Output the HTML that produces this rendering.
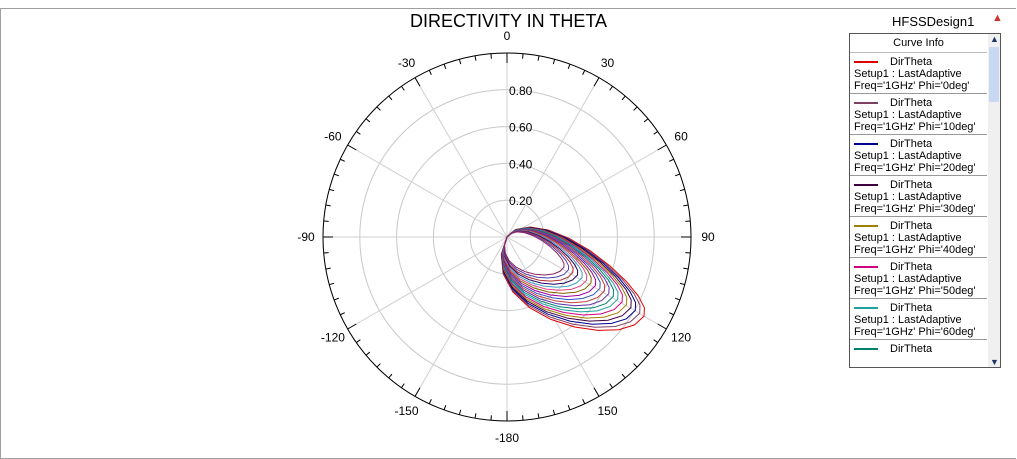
<!DOCTYPE html><html><head><style>
body{margin:0;width:1017px;height:458px;background:#fff;overflow:hidden;font-family:"Liberation Sans",Arial,sans-serif;position:relative}
.frame{position:absolute;left:0;top:8px;width:1015px;height:449px;border:1px solid #a0a0a0;border-right:none}
.title{position:absolute;left:0;width:1017px;top:11px;text-align:center;font-size:18px}
.proj{position:absolute;left:892px;top:14px;font-size:13px}
.leg{position:absolute;left:849px;top:33px;width:150px;height:333px;border:1px solid #555;background:#fff;overflow:hidden;font-size:11px}
.leg .h{height:18px;text-align:center;line-height:18px;border-bottom:1px solid #bbb;width:137px}
.e{height:41px;border-bottom:1px solid #999;width:137px;padding-left:4px;box-sizing:border-box;line-height:12px;padding-top:3px}
.e i{display:inline-block;width:24px;height:2px;vertical-align:middle;margin-right:12px}
.sb{position:absolute;right:0;top:0;width:12px;height:333px;background:#f0f0f0}
</style></head><body>
<div class="frame"></div>
<div class="title">DIRECTIVITY IN THETA</div>
<div class="proj">HFSSDesign1</div>
<div style="position:absolute;left:992px;top:12px;color:#c33;font-size:11px">▲</div>
<svg id="s" width="1017" height="458" style="position:absolute;left:0;top:0"></svg>
<div class="leg"><div class="h">Curve Info</div>
<div class="e"><i style="background:#e00000"></i>DirTheta<br>Setup1 : LastAdaptive<br>Freq='1GHz' Phi='0deg'</div>
<div class="e"><i style="background:#804060"></i>DirTheta<br>Setup1 : LastAdaptive<br>Freq='1GHz' Phi='10deg'</div>
<div class="e"><i style="background:#000090"></i>DirTheta<br>Setup1 : LastAdaptive<br>Freq='1GHz' Phi='20deg'</div>
<div class="e"><i style="background:#400040"></i>DirTheta<br>Setup1 : LastAdaptive<br>Freq='1GHz' Phi='30deg'</div>
<div class="e"><i style="background:#a08000"></i>DirTheta<br>Setup1 : LastAdaptive<br>Freq='1GHz' Phi='40deg'</div>
<div class="e"><i style="background:#d00080"></i>DirTheta<br>Setup1 : LastAdaptive<br>Freq='1GHz' Phi='50deg'</div>
<div class="e"><i style="background:#20a0a0"></i>DirTheta<br>Setup1 : LastAdaptive<br>Freq='1GHz' Phi='60deg'</div>
<div class="e" style="border:none"><i style="background:#008070"></i>DirTheta</div>
<div class="sb"><div style="position:absolute;top:13px;left:1px;width:10px;height:55px;background:#c8d8f0"></div><div style="position:absolute;top:0;left:2px;font-size:9px;color:#236">▲</div><div style="position:absolute;bottom:0;left:2px;font-size:9px;color:#236">▼</div></div>
</div>
<script>
var s=document.getElementById('s'),cx=507,cy=237,R=184,h='';
function P(r,a){a=a*Math.PI/180;return [cx+r*Math.sin(a),cy-r*Math.cos(a)];}
for(var i=1;i<=5;i++)h+='<circle cx="'+cx+'" cy="'+cy+'" r="'+(R*i/5)+'" fill="none" stroke="#c8c8c8"/>';
for(var a=0;a<360;a+=30){var p=P(R,a);h+='<line x1="'+cx+'" y1="'+cy+'" x2="'+p[0]+'" y2="'+p[1]+'" stroke="#d0d0d0"/>';}
h+='<circle cx="'+cx+'" cy="'+cy+'" r="'+R+'" fill="none" stroke="#000"/>';
for(var a=0;a<360;a+=5){var L=a%30==0?10:5,p=P(R,a),q=P(R-L,a);h+='<line x1="'+p[0]+'" y1="'+p[1]+'" x2="'+q[0]+'" y2="'+q[1]+'" stroke="#000"/>';}
var labs={0:'0',30:'30',60:'60',90:'90',120:'120',150:'150',180:'-180',210:'-150',240:'-120',270:'-90',300:'-60',330:'-30'};
for(var a in labs){var p=P(R+17,+a);h+='<text x="'+p[0]+'" y="'+(p[1]+4)+'" font-size="12" text-anchor="middle" font-family="Liberation Sans">'+labs[a]+'</text>';}
['0.20','0.40','0.60','0.80'].forEach(function(t,i){h+='<text x="'+(cx+2)+'" y="'+(cy-R*(i+1)/5+5)+'" font-size="12" font-family="Liberation Sans">'+t+'</text>';});
var cols=['#e00000','#804060','#000090','#400040','#a08000','#d00080','#20a0a0','#008070','#6030a0','#c04040','#3050c0','#a000a0','#806000','#e04080','#40a0c0','#200060','#b03030','#5040b0','#902060'];
for(var k=0;k<19;k++){
 var f=k/18,Lm=(0.86-0.51*f)*R,W=(0.50+0.05*f)*Lm,ang=(120-2*f)*Math.PI/180;
 var ux=Math.sin(ang),uy=-Math.cos(ang),vx=-uy,vy=ux,d='';
 for(var j=0;j<=20;j++){var t=j/20*2*Math.PI;
  var a1=Lm*(1-Math.cos(t))/2,sn=Math.sin(t);
  var b=W/2*sn*(sn>0?1.25:0.75)*(1+0.2*Math.cos(t));
  var x=cx+ux*a1+vx*b,y=cy+uy*a1+vy*b;
  d+=(d?'L':'M')+x.toFixed(1)+' '+y.toFixed(1);}
 h+='<path d="'+d+'" fill="none" stroke="'+cols[k]+'" stroke-width="1"/>';}
s.innerHTML=h;
</script>
</body></html>
